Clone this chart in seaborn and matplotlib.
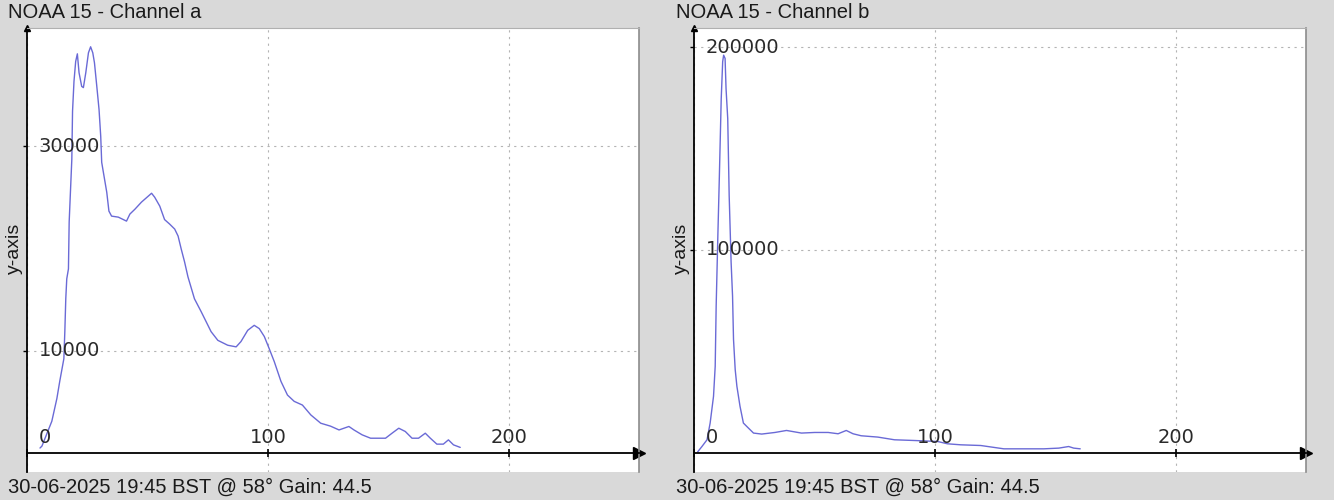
import matplotlib
matplotlib.use("Agg")
import matplotlib.pyplot as plt
import seaborn as sns

# channel a - histogram
a_x = [5.4, 6.2, 10.3, 12.4, 13.6, 15.3, 15.7, 16.1, 16.5, 17.2, 17.5, 18.6, 18.9, 19.5,
       20.2, 20.9, 21.6, 22.7, 23.4, 24.4, 25.5, 26.4, 27.3, 28.0, 28.9, 29.9, 30.6, 31.0,
       31.7, 33.1, 34.0, 35.1, 37.9, 41.3, 42.7, 44.8, 47.5, 50.3, 51.7, 53.0, 55.1, 57.1,
       59.2, 61.3, 62.7, 64.0, 65.4, 66.8, 69.5, 72.3, 76.4, 79.2, 83.3, 86.8, 88.8, 91.6,
       94.3, 96.4, 98.5, 100.5, 102.6, 105.4, 108.1, 110.9, 114.3, 117.8, 121.9, 126.0,
       129.5, 133.6, 135.7, 139.1, 142.6, 148.8, 151.5, 154.3, 157.0, 159.8, 162.5, 165.3,
       167.4, 170.1, 172.8, 174.9, 177.0, 179.8]
a_y = [450, 640, 3070, 5300, 7000, 9200, 11850, 15100, 17020, 18000, 22590, 28730, 33440,
       36370, 38320, 39070, 37220, 35880, 35760, 37220, 39170, 39760, 39170, 38190, 36050,
       33610, 30980, 28440, 27460, 25510, 23660, 23170, 23070, 22680, 23370, 23850, 24540,
       25120, 25410, 25020, 24150, 22830, 22390, 21900, 21220, 19950, 18680, 17220, 15070,
       13800, 11850, 11000, 10520, 10360, 10880, 11980, 12470, 12150, 11370, 10200, 8930,
       6980, 5640, 5020, 4660, 3690, 2880, 2590, 2220, 2560, 2220, 1740, 1410, 1410, 1900,
       2390, 2070, 1410, 1410, 1900, 1410, 830, 830, 1250, 760, 510]

# channel b
b_x = [1.5, 3.3, 5.4, 6.7, 8.1, 8.8, 9.2, 9.9, 10.5, 11.3, 11.9, 12.3, 12.9, 13.3, 14.0,
       14.6, 15.4, 16.0, 16.4, 17.1, 17.8, 19.1, 20.5, 21.9, 24.7, 28.1, 33.6, 38.4, 44.6,
       50.1, 55.7, 59.8, 63.2, 66.0, 69.4, 76.3, 83.2, 91.4, 101.1, 105.2, 110.7, 119.0,
       128.6, 138.3, 145.2, 151.4, 155.5, 157.6, 160.3]
b_y = [300, 2970, 6290, 14550, 27720, 42570, 72280, 106930, 135000, 174600, 192770, 196000,
       194400, 179500, 164700, 126700, 93900, 77200, 55800, 40900, 32700, 22800, 14550,
       12870, 9600, 9110, 9900, 10890, 9600, 9900, 9900, 9260, 10890, 9260, 8270, 7620,
       6290, 5940, 5450, 4310, 3810, 3470, 1830, 1830, 1830, 2180, 2970, 2180, 1830]

x_ticks = [0, 100, 200]
a_yticks = [10000, 30000]
b_yticks = [100000, 200000]
titles = ["NOAA 15 - Channel a", "NOAA 15 - Channel b"]
footer = "30-06-2025 19:45 BST @ 58\u00b0 Gain: 44.5"

bg = "#d9d9d9"
line_col = "#6a6ad6"
W, H = 1334, 500

sns.set_style("white")
plt.rcParams["font.family"] = ["DejaVu Sans"]

fig = plt.figure(figsize=(W / 100, H / 100), dpi=100, facecolor=bg)

panels = [
    (27, a_x, a_y, a_yticks, (-1900, 41600), titles[0], 8),
    (694, b_x, b_y, b_yticks, (-9600, 209400), titles[1], 676),
]

for left_px, xs, ys, yt, ylim, title, text_px in panels:
    ax = fig.add_axes([left_px / W, 28 / H, 612 / W, 444 / H])
    ax.set_facecolor("white")
    sns.lineplot(x=xs, y=ys, ax=ax, color=line_col, linewidth=1.0)
    ax.set_xlim(1, 254)
    ax.set_ylim(*ylim)
    ax.set_xticks(x_ticks)
    ax.set_yticks(yt)
    ax.grid(True, color="#b4b4b4", linestyle=(0, (2, 4)), linewidth=0.8)
    ax.tick_params(axis="both", labelbottom=False, labelleft=False)
    ax.tick_params(axis="x", direction="inout", length=6, width=1.2, color="black", bottom=True)
    ax.tick_params(axis="y", direction="out", length=3, width=1, color="black", left=True)

    ax.spines["bottom"].set_position(("data", 0))
    ax.spines["bottom"].set_color("black")
    ax.spines["bottom"].set_linewidth(1.3)
    ax.spines["left"].set_color("black")
    ax.spines["left"].set_linewidth(1.3)
    ax.spines["right"].set_color("#8c8c8c")
    ax.spines["right"].set_linewidth(1.2)
    ax.spines["top"].set_color("#b0b0b0")
    ax.spines["top"].set_linewidth(0.8)

    # arrow heads at the axis ends
    ax.plot(1, 0, ">k", markersize=8, transform=ax.get_yaxis_transform(), clip_on=False)
    ax.plot(0, 1, "^k", markersize=5, transform=ax.get_xaxis_transform(), clip_on=False)

    # tick labels drawn inside the plot area
    for t in yt:
        ax.annotate(f"{t}", xy=(0, t), xycoords=ax.get_yaxis_transform(),
                    xytext=(8.5, 0), textcoords="offset points",
                    ha="left", va="center", fontsize=14, color="#2a2a2a")
    for t in x_ticks:
        if t == 0:
            # first label is pushed right so it stays inside the plot
            ax.annotate("0", xy=(0, 0), xycoords=ax.get_yaxis_transform(),
                        xytext=(8.5, 7), textcoords="offset points",
                        ha="left", va="baseline", fontsize=14, color="#2a2a2a")
        else:
            ax.annotate(f"{t}", xy=(t, 0), xytext=(0, 7), textcoords="offset points",
                        ha="center", va="baseline", fontsize=14, color="#2a2a2a")

    fig.text(text_px / W, 1 - 13 / H, title, ha="left", va="center",
             fontsize=14.5, family="Liberation Sans", color="#1a1a1a")
    fig.text(text_px / W, 1 - 487 / H, footer, ha="left", va="center",
             fontsize=14.5, family="Liberation Sans", color="#1a1a1a")
    fig.text((left_px - 13) / W, 1 - 248 / H, "y-axis", ha="center", va="center",
             rotation=90, fontsize=14, family="Liberation Sans", color="#1a1a1a")

fig.savefig("out.png", dpi=100, facecolor=bg)
